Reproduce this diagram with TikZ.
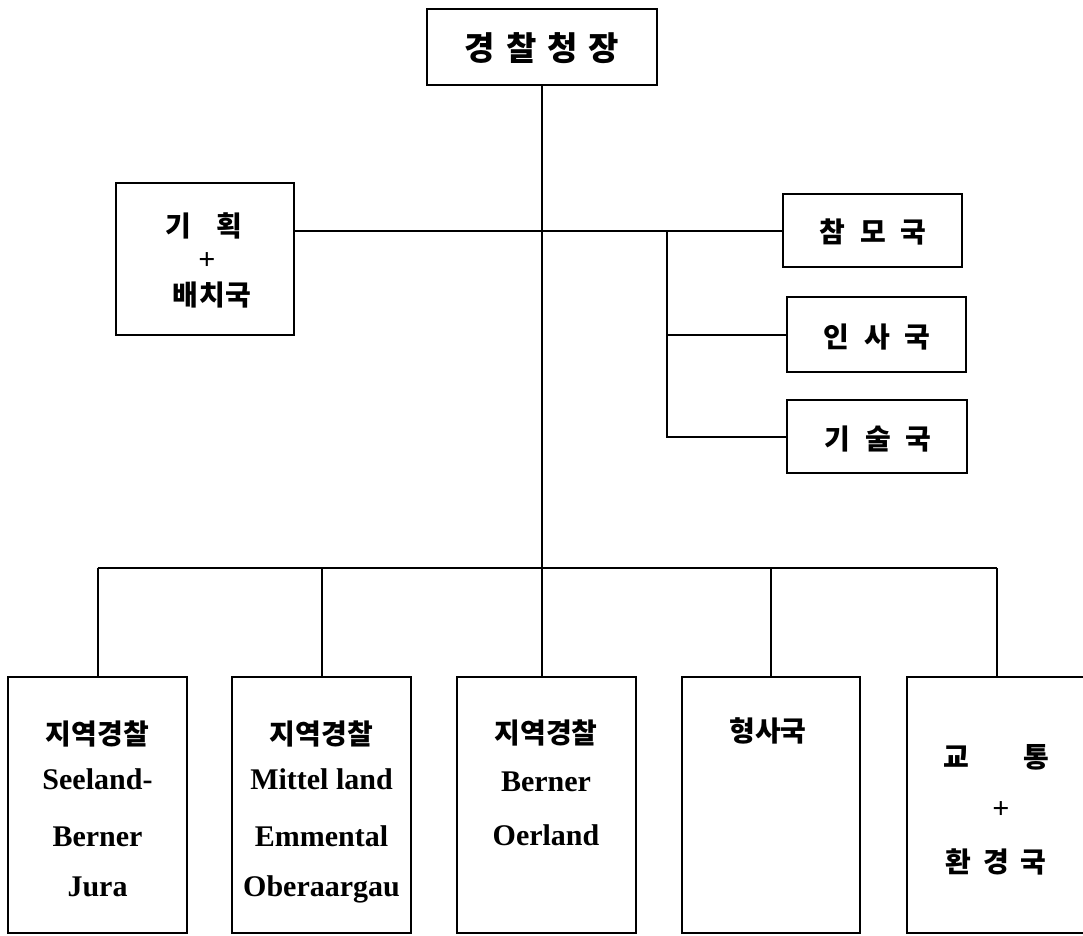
\documentclass[tikz,border=0pt]{standalone}
\usepackage{fontspec}
\setmainfont{Liberation Serif}
\newfontfamily\kr{Noto Sans CJK KR}
\tikzset{
  boxn/.style={draw=black, line width=2pt, rectangle, inner sep=0pt, outer sep=0pt},
  ln/.style={line width=2pt},
  kbig/.style={font=\kr\bfseries\fontsize{33}{36}\selectfont, inner sep=0pt},
  kt/.style={font=\kr\bfseries\fontsize{28}{32}\selectfont, inner sep=0pt},
  lt/.style={font=\bfseries\fontsize{30}{34}\selectfont, inner sep=0pt, anchor=base},
}
\begin{document}
\begin{tikzpicture}[x=1pt,y=-1pt]
\clip (0,0) rectangle (1083,935);
\fill[white] (0,0) rectangle (1083,935);
% boxes
\node[boxn, minimum width=230pt, minimum height=76pt] (top) at (542,47) {};
\node[boxn, minimum width=178pt, minimum height=152pt] (plan) at (205,259) {};
\node[boxn, minimum width=179pt, minimum height=73pt] (staff) at (872.5,230.5) {};
\node[boxn, minimum width=179pt, minimum height=75pt] (hr) at (876.5,334.5) {};
\node[boxn, minimum width=180pt, minimum height=73pt] (tech) at (877,436.5) {};
\node[boxn, minimum width=179pt, minimum height=256pt] (b1) at (97.5,805) {};
\node[boxn, minimum width=179pt, minimum height=256pt] (b2) at (321.5,805) {};
\node[boxn, minimum width=179pt, minimum height=256pt] (b3) at (546.5,805) {};
\node[boxn, minimum width=178pt, minimum height=256pt] (b4) at (771,805) {};
\node[boxn, minimum width=179pt, minimum height=256pt] (b5) at (996.5,805) {};
% connector helper coordinates
\coordinate (bus) at (0,568);
\coordinate (br) at (667,230.5);
% connectors
\draw[ln] (top.south) -- (top.south |- b3.north);
\draw[ln] (plan.east |- staff.west) -- (staff.west);
\draw[ln] (br) |- (hr.west);
\draw[ln] (br) |- (tech.west);
\draw[ln] (b1.north |- bus) -- (b5.north |- bus);
\draw[ln] (b1.north |- bus) -- (b1.north);
\draw[ln] (b2.north |- bus) -- (b2.north);
\draw[ln] (b4.north |- bus) -- (b4.north);
\draw[ln] (b5.north |- bus) -- (b5.north);
% texts
\node[kbig] (ttop) at (542,48) {경\hspace{11pt}찰\hspace{11pt}청\hspace{11pt}장};
\node[kt] (tp1) at (204,226) {기\hspace{26pt}획};
\node[lt, anchor=center] (tp2) at (207,261) {+};
\node[kt] (tp3) at (212,295) {배\hspace{1pt}치\hspace{1pt}국};
\node[kt] (tstaff) at (873,232) {참\hspace{15pt}모\hspace{15pt}국};
\node[kt] (thr) at (877,337) {인\hspace{15pt}사\hspace{15pt}국};
\node[kt] (ttech) at (878,439) {기\hspace{15pt}술\hspace{15pt}국};
% bottom box 1
\node[kt] (t1a) at (97.5,734) {지역경찰};
\node[lt] (t1b) at (97.5,789) {Seeland-};
\node[lt] (t1c) at (97.5,846) {Berner};
\node[lt] (t1d) at (97.5,896) {Jura};
% bottom box 2
\node[kt] (t2a) at (321.5,734) {지역경찰};
\node[lt] (t2b) at (321.5,789) {Mittel land};
\node[lt] (t2c) at (321.5,846) {Emmental};
\node[lt] (t2d) at (321.5,896) {Oberaargau};
% bottom box 3
\node[kt] (t3a) at (546,733) {지역경찰};
\node[lt] (t3b) at (546,791) {Berner};
\node[lt] (t3c) at (546,845) {Oerland};
% bottom box 4
\node[kt] (t4a) at (768,731) {형사국};
% bottom box 5
\node[kt] (t5a) at (956,757) {교};
\node[kt] (t5b) at (1036,757) {통};
\node[lt, anchor=center] (t5c) at (1001,810) {+};
\node[kt] (t5d) at (996,862) {환\hspace{12pt}경\hspace{12pt}국};
\end{tikzpicture}
\end{document}
